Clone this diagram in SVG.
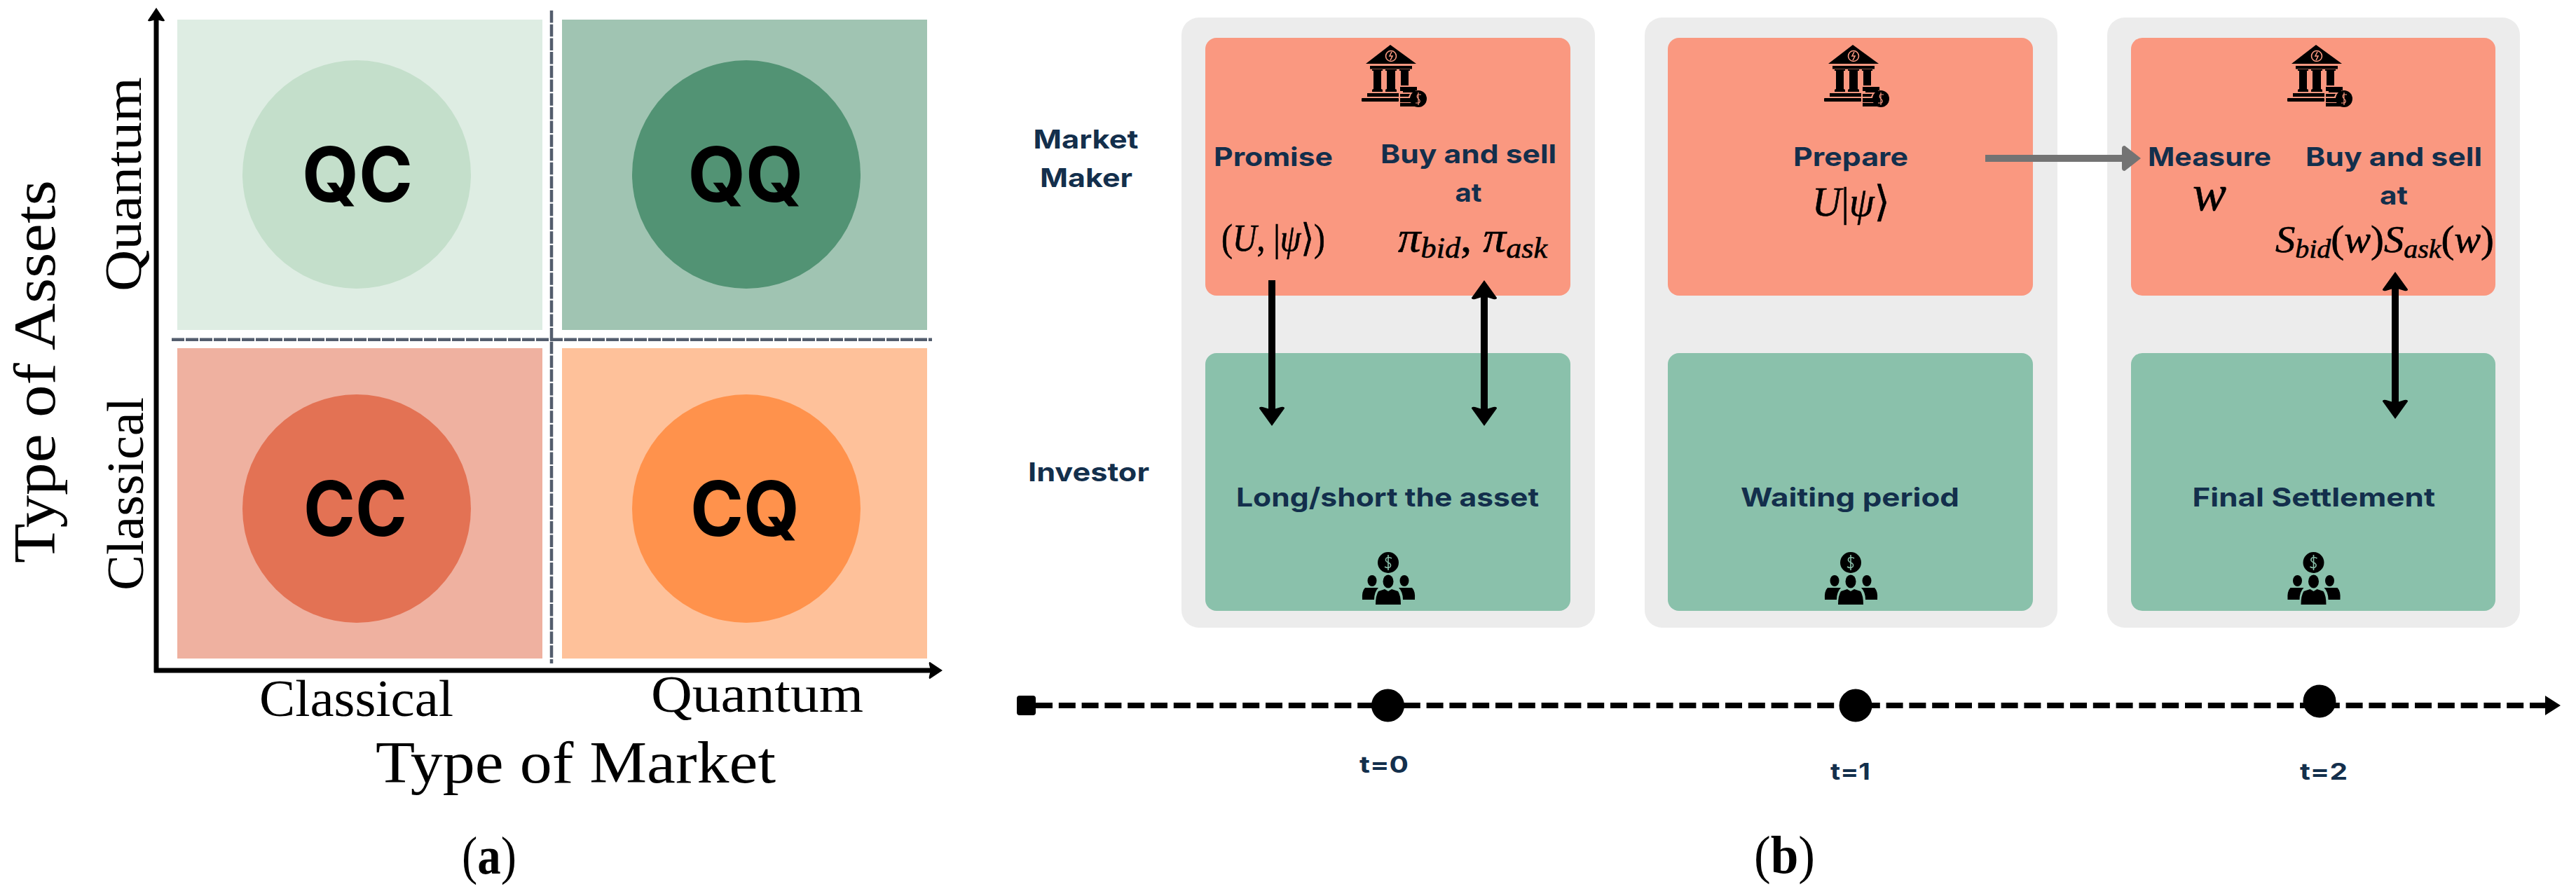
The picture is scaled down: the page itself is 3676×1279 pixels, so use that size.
<svg xmlns="http://www.w3.org/2000/svg" xmlns:xlink="http://www.w3.org/1999/xlink" width="3676" height="1279" viewBox="0 0 3676 1279">
<style>
.bg{fill:#fff}
.cm{font-family:"Liberation Serif",serif;fill:#000}
.lg{font-size:85px}
.md{font-size:75px}
.q{font-family:"Inter","Noto Sans",sans-serif;font-weight:700;font-size:108px;fill:#000;text-anchor:middle}
.m{font-family:"Inter","Lato",sans-serif;font-weight:700;font-size:37px;fill:#132f4c}
.t{font-family:"Inter","Lato",sans-serif;font-weight:700;font-size:33px;fill:#132f4c}
.math{font-family:"Liberation Serif","DejaVu Serif",serif;font-style:italic;fill:#000;stroke:#000;stroke-width:.6px}
.up{font-style:normal}
.panel{fill:#ececec}
.or{fill:#fa9880}
.gr{fill:#8ac1ab}
.dash{stroke:#535d6d;stroke-width:4.500px;fill:none}
.axis{stroke:#000;stroke-width:7;fill:none}
.bk{stroke:#000;stroke-width:10;fill:none}
</style>
<defs>
<marker id="head" markerUnits="userSpaceOnUse" viewBox="0 0 28 36" markerWidth="28" markerHeight="36" refX="14" refY="18" orient="auto-start-reverse">
<path d="M28 18 L3 0 Q0 0 1 5 L5 18 L1 31 Q0 36 3 36 Z" fill="#000" stroke="none"/>
</marker>
<marker id="ghead" markerUnits="userSpaceOnUse" viewBox="0 0 27 36" markerWidth="27" markerHeight="36" refX="4" refY="18" orient="auto">
<path d="M27 18 L4 0 Q0 0 0 4 L0 32 Q0 36 4 36 Z" fill="#737373"/>
</marker>
<marker id="ax" markerUnits="userSpaceOnUse" viewBox="0 0 20 24" markerWidth="20" markerHeight="24" refX="8" refY="12" orient="auto">
<path d="M20 12 L2 0 Q0 0 1 4 L3 12 L1 20 Q0 24 2 24 Z" fill="#000"/>
</marker>
<g id="bank">
<path d="M1984 64 L2021 91 L1949 91 Z"/>
<rect x="1955" y="94" width="60" height="4.5"/>
<path d="M1958 99H1973V101H1971V127L1973 128V131H1958V128L1960 127V101H1958Z"/>
<path d="M1977 99H1993V101H1991V127L1993 128V131H1977V128L1979 127V101H1977Z"/>
<path d="M1997 99H2012V101H2010V122H1999V101H1997Z"/>
<rect x="1951" y="133" width="45" height="5"/>
<rect x="1943" y="140" width="53" height="5" rx="1"/>
<path d="M1998 124H2022V129H2020V132H2002V130H1998ZM1998 134H2012L2010 138H1998ZM1998 140H2012L2014 146H1998ZM1998 147H2014L2020 152H1998Z"/>
<circle cx="2024" cy="141" r="12"/>
<circle cx="1985" cy="80" r="7.5" fill="none" stroke="#fa9880" stroke-width="1.6"/>
<path d="M1986 74L1983 80H1987L1984 86" fill="none" stroke="#fa9880" stroke-width="1.6"/>
<path d="M2028 135H2023Q2021 138 2024 141Q2028 144 2025 147H2020M2024 132V150" fill="none" stroke="#fa9880" stroke-width="1.2"/>
</g>
<g id="people">
<circle cx="1981" cy="803" r="15"/>
<path d="M1986 797Q1981 794 1978 797Q1976 801 1981 803Q1986 805 1984 809Q1981 812 1976 809M1981 792V814" fill="none" stroke="#8ac1ab" stroke-width="1.6"/>
<ellipse cx="1981" cy="830" rx="7.5" ry="9.5"/>
<ellipse cx="1958" cy="829" rx="6.5" ry="8"/>
<ellipse cx="2004" cy="829" rx="6.5" ry="8"/>
<path d="M1967 844L1976 841L1981 844L1986 841L1995 844Q1999 850 1999 863H1963Q1963 850 1967 844Z"/>
<path d="M1948 839H1967Q1961 845 1961 856H1944Q1943 844 1948 839Z"/>
<path d="M1996 839H2015Q2020 844 2019 856H2002Q2002 845 1996 839Z"/>
</g>
</defs>
<rect class="bg" width="3676" height="1279"/>

<g id="node-QC"><rect x="253" y="28" width="521" height="443" fill="#deede3"/><circle cx="509" cy="249" r="163" fill="#c4dfcb"/><text class="q" x="510" y="288" textLength="158" lengthAdjust="spacingAndGlyphs">QC</text></g>
<g id="node-QQ"><rect x="802" y="28" width="521" height="443" fill="#a0c4b2"/><circle cx="1065" cy="249" r="163" fill="#529374"/><text class="q" x="1064" y="288" textLength="165" lengthAdjust="spacingAndGlyphs">QQ</text></g>
<g id="node-CC"><rect x="253" y="497" width="521" height="443" fill="#efb1a0"/><circle cx="509" cy="726" r="163" fill="#e37254"/><text class="q" x="507" y="765" textLength="148" lengthAdjust="spacingAndGlyphs">CC</text></g>
<g id="node-CQ"><rect x="802" y="497" width="521" height="443" fill="#fec19a"/><circle cx="1065" cy="726" r="163" fill="#ff924c"/><text class="q" x="1063" y="765" textLength="156" lengthAdjust="spacingAndGlyphs">CQ</text></g>

<g id="axes">
<line class="dash" stroke-dasharray="17.500 2.200" x1="787" y1="15" x2="787" y2="947"/>
<line class="dash" stroke-dasharray="18 2" x1="245" y1="484.700" x2="1330" y2="484.700"/>
<path class="axis" d="M223 960V23" marker-end="url(#ax)"/>
<path class="axis" d="M220 957H1333" marker-end="url(#ax)"/>
</g>
<g id="axis-labels">
<text class="cm lg" x="536" y="1117" textLength="571" lengthAdjust="spacingAndGlyphs">Type of Market</text>
<text class="cm md" x="370" y="1022" textLength="277" lengthAdjust="spacingAndGlyphs">Classical</text>
<text class="cm md" x="929" y="1016" textLength="303" lengthAdjust="spacingAndGlyphs">Quantum</text>
<text class="cm lg" transform="translate(78 804) rotate(-90)" textLength="547" lengthAdjust="spacingAndGlyphs">Type of Assets</text>
<text class="cm md" transform="translate(204 843) rotate(-90)" textLength="276" lengthAdjust="spacingAndGlyphs">Classical</text>
<text class="cm md" transform="translate(201 416) rotate(-90)" textLength="306" lengthAdjust="spacingAndGlyphs">Quantum</text>
<text class="cm" x="659" y="1247" font-size="76" textLength="78" lengthAdjust="spacingAndGlyphs">(<tspan font-weight="700">a</tspan>)</text>
<text class="cm" x="2503" y="1246" font-size="76" textLength="87" lengthAdjust="spacingAndGlyphs">(<tspan font-weight="700">b</tspan>)</text>
</g>

<g id="row-labels">
<text class="m" x="1474.500" y="212" textLength="150" lengthAdjust="spacingAndGlyphs">Market</text>
<text class="m" x="1484" y="267" textLength="132" lengthAdjust="spacingAndGlyphs">Maker</text>
<text class="m" x="1467" y="687" textLength="173" lengthAdjust="spacingAndGlyphs">Investor</text>
</g>

<g id="step-0">
<rect class="panel" x="1686" y="25" width="590" height="871" rx="25"/>
<g id="mm-0"><rect class="or" x="1720" y="54" width="521" height="368" rx="16"/>
<use href="#bank"/>
<text class="m" x="1732" y="237" textLength="170" lengthAdjust="spacingAndGlyphs">Promise</text>
<text class="m" x="1970" y="233" textLength="251" lengthAdjust="spacingAndGlyphs">Buy and sell</text>
<text class="m" x="2076.500" y="288" textLength="38" lengthAdjust="spacingAndGlyphs">at</text>
<text class="math" x="1743" y="358" font-size="54" textLength="148" lengthAdjust="spacingAndGlyphs"><tspan class="up">(</tspan>U<tspan class="up">, |</tspan>ψ<tspan class="up">⟩)</tspan></text>
<text class="math" x="1995" y="359" font-size="62" textLength="213" lengthAdjust="spacingAndGlyphs">π<tspan font-size="42" dy="9">bid</tspan><tspan class="up" dy="-9">, </tspan>π<tspan font-size="42" dy="9">ask</tspan></text>
</g>
<g id="inv-0"><rect class="gr" x="1720" y="504" width="521" height="368" rx="16"/>
<use href="#people"/>
<text class="m" x="1764" y="723" textLength="432" lengthAdjust="spacingAndGlyphs">Long/short the asset</text>
</g>
</g>

<g id="step-1">
<rect class="panel" x="2347" y="25" width="589" height="871" rx="25"/>
<g id="mm-1"><rect class="or" x="2380" y="54" width="521" height="368" rx="16"/>
<use href="#bank" x="660"/>
<text class="m" x="2559" y="237" textLength="164" lengthAdjust="spacingAndGlyphs">Prepare</text>
<text class="math" x="2586" y="308" font-size="60" textLength="111" lengthAdjust="spacingAndGlyphs">U<tspan class="up">|</tspan>ψ<tspan class="up">⟩</tspan></text>
</g>
<g id="inv-1"><rect class="gr" x="2380" y="504" width="521" height="368" rx="16"/>
<use href="#people" x="660"/>
<text class="m" x="2484" y="723" textLength="312" lengthAdjust="spacingAndGlyphs">Waiting period</text>
</g>
</g>

<g id="step-2">
<rect class="panel" x="3007" y="25" width="589" height="871" rx="25"/>
<g id="mm-2"><rect class="or" x="3041" y="54" width="520" height="368" rx="16"/>
<use href="#bank" x="1321"/>
<text class="m" x="3065" y="237" textLength="176" lengthAdjust="spacingAndGlyphs">Measure</text>
<text class="m" x="3290" y="237" textLength="252" lengthAdjust="spacingAndGlyphs">Buy and sell</text>
<text class="m" x="3396" y="292" textLength="40" lengthAdjust="spacingAndGlyphs">at</text>
<text class="math" x="3129" y="300" font-size="72" textLength="48" lengthAdjust="spacingAndGlyphs">w</text>
<text class="math" x="3247" y="360" font-size="54" textLength="312" lengthAdjust="spacingAndGlyphs">S<tspan font-size="38" dy="8">bid</tspan><tspan class="up" dy="-8">(</tspan>w<tspan class="up">)</tspan>S<tspan font-size="38" dy="8">ask</tspan><tspan class="up" dy="-8">(</tspan>w<tspan class="up">)</tspan></text>
</g>
<g id="inv-2"><rect class="gr" x="3041" y="504" width="520" height="368" rx="16"/>
<use href="#people" x="1320.500"/>
<text class="m" x="3128.500" y="723" textLength="346.500" lengthAdjust="spacingAndGlyphs">Final Settlement</text>
</g>
</g>

<g id="connectors">
<line class="bk" x1="1815" y1="400" x2="1815" y2="594" marker-end="url(#head)"/>
<line class="bk" x1="2118" y1="414" x2="2118" y2="594" marker-start="url(#head)" marker-end="url(#head)"/>
<line class="bk" x1="3418" y1="402" x2="3418" y2="584" marker-start="url(#head)" marker-end="url(#head)"/>
<line x1="2833" y1="226" x2="3032" y2="226" stroke="#737373" stroke-width="10" marker-end="url(#ghead)"/>
</g>

<g id="timeline">
<rect x="1451" y="993" width="27" height="28" rx="4"/>
<line x1="1478" y1="1007" x2="3634" y2="1007" stroke="#000" stroke-width="8" stroke-dasharray="24 8.800" stroke-linecap="butt"/>
<path d="M3632 993L3654 1007L3632 1021Z"/>
<circle cx="1980.500" cy="1007" r="23.500"/>
<circle cx="2648" cy="1007" r="23.500"/>
<circle cx="3310" cy="1001" r="23.500"/>
<text class="t" x="1940" y="1103" textLength="70" lengthAdjust="spacingAndGlyphs">t=0</text>
<text class="t" x="2612" y="1113" textLength="57" lengthAdjust="spacingAndGlyphs">t=1</text>
<text class="t" x="3282" y="1113" textLength="68" lengthAdjust="spacingAndGlyphs">t=2</text>
</g>
</svg>
